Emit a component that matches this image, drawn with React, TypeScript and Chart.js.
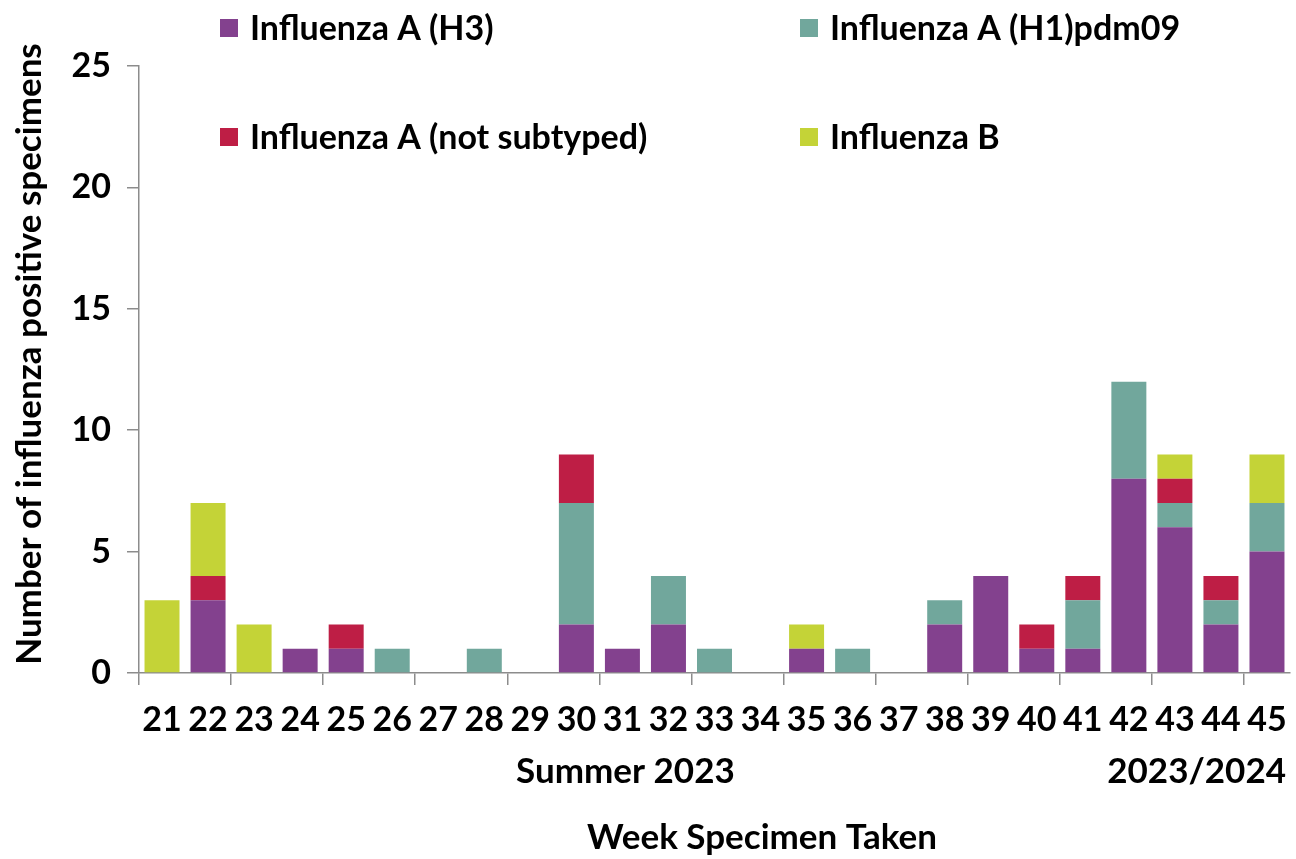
import React, { useEffect, useRef } from "react";
import { Chart, registerables } from "chart.js";

Chart.register(...registerables);

const weeks = ["21","22","23","24","25","26","27","28","29","30","31","32","33","34","35","36","37","38","39","40","41","42","43","44","45"];
const fluAH3 = [0,3,0,1,1,0,0,0,0,2,1,2,0,0,1,0,0,2,4,1,1,8,6,2,5];
const fluAH1 = [0,0,0,0,0,1,0,1,0,5,0,2,1,0,0,1,0,1,0,0,2,4,1,1,2];
const fluANotSubtyped = [0,1,0,0,1,0,0,0,0,2,0,0,0,0,0,0,0,0,0,1,1,0,1,1,0];
const fluB = [3,3,2,0,0,0,0,0,0,0,0,0,0,0,1,0,0,0,0,0,0,0,1,0,2];
const yTicks = [0, 5, 10, 15, 20, 25];

const seriesNames = ["Influenza A (H3)", "Influenza A (H1)pdm09", "Influenza A (not subtyped)", "Influenza B"];
const seriesColors = ["#83418E", "#71A79C", "#BE1E45", "#C4D337"];

const FONT = "Lato, 'Open Sans', sans-serif";
const AXIS_GRAY = "#8c8c8c";

const textPlugin = {
  id: "customText",
  afterDatasetsDraw(chart: any) {
    const ctx = chart.ctx;
    const x = chart.scales.x;
    ctx.save();
    ctx.fillStyle = "#000";
    ctx.font = `bold 34px ${FONT}`;
    ctx.textBaseline = "middle";
    // legend
    const legendPos = [
      [220, 28],
      [800, 28],
      [220, 137],
      [800, 137],
    ];
    chart.data.datasets.forEach((ds: any, i: number) => {
      const [lx, ly] = legendPos[i];
      ctx.fillStyle = ds.backgroundColor;
      ctx.fillRect(lx, ly - 9, 18, 18);
      ctx.fillStyle = "#000";
      ctx.textAlign = "left";
      ctx.fillText(ds.label, lx + 30, ly + 1);
    });
    // period labels
    ctx.font = `bold 35px ${FONT}`;
    ctx.textAlign = "center";
    ctx.fillText("Summer 2023", x.getPixelForValue(10) + 3, 772);
    ctx.textAlign = "right";
    ctx.fillText("2023/2024", x.getPixelForValue(24) + 19, 772);
    // x title
    ctx.textAlign = "center";
    ctx.fillText("Week Specimen Taken", 762, 838);
    // y title
    ctx.font = `bold 35px ${FONT}`;
    ctx.translate(30, 354);
    ctx.rotate(-Math.PI / 2);
    ctx.fillText("Number of influenza positive specimens", 0, 0);
    ctx.restore();
  },
};

export default function App() {
  const canvasRef = useRef<HTMLCanvasElement | null>(null);

  useEffect(() => {
    if (!canvasRef.current) return;
    const values = [fluAH3, fluAH1, fluANotSubtyped, fluB];
    const chart = new Chart(canvasRef.current, {
      type: "bar",
      data: {
        labels: weeks,
        datasets: values.map((v, i) => ({
          label: seriesNames[i],
          data: v,
          backgroundColor: seriesColors[i],
          borderWidth: 0,
          categoryPercentage: 1,
          barPercentage: 0.76,
        })),
      },
      plugins: [textPlugin],
      options: {
        responsive: false,
        animation: false,
        devicePixelRatio: 1,
        layout: { padding: { top: 66, right: 6, left: 0, bottom: 0 } },
        plugins: {
          legend: { display: false },
          tooltip: { enabled: false },
          title: { display: false },
        },
        scales: {
          x: {
            stacked: true,
            offset: true,
            grid: {
              offset: true,
              drawOnChartArea: false,
              drawTicks: true,
              tickLength: 12,
              lineWidth: 1.5,
              color: (c: any) => (c.index % 2 === 0 ? AXIS_GRAY : "rgba(0,0,0,0)"),
            },
            border: { display: true, color: AXIS_GRAY, width: 1.5 },
            ticks: {
              autoSkip: false,
              maxRotation: 0,
              color: "#000",
              padding: 15,
              font: { family: FONT, size: 34, weight: "bold" },
            },
            afterFit: (s: any) => {
              s.height = 186;
              s.paddingLeft = 0;
              s.paddingRight = 0;
            },
          },
          y: {
            stacked: true,
            min: 0,
            max: 25,
            afterBuildTicks: (s: any) => {
              s.ticks = yTicks.map((v) => ({ value: v }));
            },
            grid: {
              drawOnChartArea: false,
              drawTicks: true,
              tickLength: 12,
              lineWidth: 1.5,
              color: AXIS_GRAY,
            },
            border: { display: true, color: AXIS_GRAY, width: 1.5 },
            ticks: {
              color: "#000",
              padding: 16,
              font: { family: FONT, size: 34, weight: "bold" },
            },
            afterFit: (s: any) => {
              s.width = 139;
            },
          },
        },
      },
    } as any);
    return () => chart.destroy();
  }, []);

  return (
    <div style={{ position: "fixed", left: 0, top: 0, width: 1296, height: 859, background: "#fff" }}>
      <canvas ref={canvasRef} width={1296} height={859} style={{ display: "block" }} />
    </div>
  );
}
